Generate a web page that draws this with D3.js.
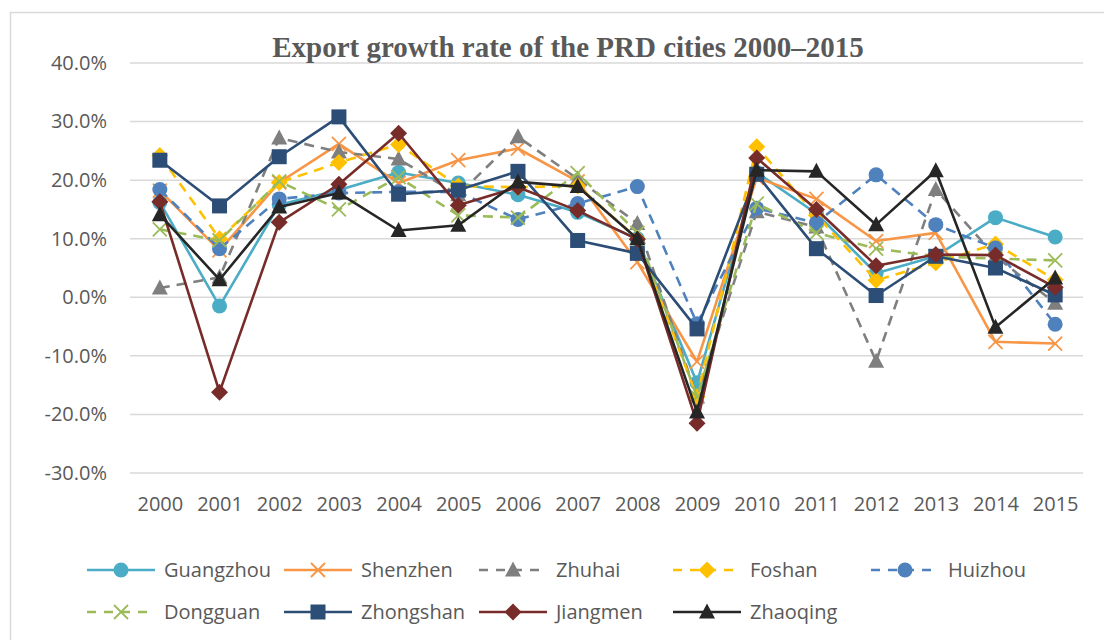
<!DOCTYPE html>
<html>
<head>
<meta charset="utf-8">
<script src="https://cdn.jsdelivr.net/npm/d3@7"></script>
<style>
  body { margin: 0; background: #fff; }
  svg { display: block; }
</style>
</head>
<body>
<script>
// data (percent)
var years = ["2000","2001","2002","2003","2004","2005","2006","2007","2008","2009","2010","2011","2012","2013","2014","2015"];
var yTicks = [-30, -20, -10, 0, 10, 20, 30, 40];

var guangzhou = [16.2, -1.5, 15.8, 18.3, 21.3, 19.5, 17.5, 14.5, 10.0, -14.6, 21.3, 14.3, 4.1, 7.0, 13.6, 10.3];
var shenzhen  = [18.2, 8.0, 19.6, 26.2, 19.5, 23.4, 25.4, 19.8, 6.0, -11.0, 20.4, 16.8, 9.6, 11.0, -7.6, -7.9];
var zhuhai    = [1.6, 3.4, 27.2, 24.8, 23.6, 17.5, 27.4, 20.2, 12.6, -17.0, 14.6, 12.0, -10.9, 18.4, 7.0, -1.0];
var foshan    = [24.2, 10.0, 19.6, 23.0, 26.1, 19.0, 18.8, 19.0, 10.0, -17.0, 25.7, 14.0, 2.9, 5.9, 9.1, 3.0];
var huizhou   = [18.4, 8.3, 16.8, 17.8, 18.0, 18.0, 13.3, 16.0, 18.9, -4.5, 15.2, 12.7, 20.9, 12.4, 8.4, -4.6];
var dongguan  = [11.6, 9.7, 19.8, 15.0, 20.5, 14.0, 13.6, 21.2, 11.0, -17.0, 16.0, 11.0, 8.3, 7.0, 6.6, 6.3];
var zhongshan = [23.4, 15.6, 24.0, 30.8, 17.6, 18.3, 21.5, 9.7, 7.5, -5.4, 21.0, 8.3, 0.3, 7.0, 5.0, 0.4];
var jiangmen  = [16.3, -16.2, 12.8, 19.3, 28.0, 15.7, 18.8, 14.8, 9.9, -21.5, 23.8, 15.0, 5.4, 7.3, 7.2, 1.7];
var zhaoqing  = [14.1, 3.0, 15.4, 17.8, 11.4, 12.3, 19.7, 18.9, 10.0, -19.6, 21.7, 21.5, 12.4, 21.6, -5.1, 3.3];

var seriesNames = ["Guangzhou","Shenzhen","Zhuhai","Foshan","Huizhou","Dongguan","Zhongshan","Jiangmen","Zhaoqing"];
var seriesValues = [guangzhou, shenzhen, zhuhai, foshan, huizhou, dongguan, zhongshan, jiangmen, zhaoqing];
var seriesColors = ["#4BACC6","#F79646","#7F7F7F","#FFC000","#4F81BD","#9BBB59","#2C4D75","#772C2A","#262626"];
var seriesMarkers = ["circle","cross","triangle","diamond","circle","cross","square","diamond","triangle"];
var seriesDashed = [false, false, true, true, true, true, false, false, false];

var width = 1104, height = 640;
var plot = { left: 130, right: 1085, top: 63, bottom: 473 };
var textColor = "#595959";
var gridColor = "#D9D9D9";
var fontFamily = "'Open Sans', 'Noto Sans', sans-serif";

var svg = d3.select("body").append("svg")
    .attr("width", width)
    .attr("height", height);

// chart frame
svg.append("rect")
    .attr("x", 10.5)
    .attr("y", 12.5)
    .attr("width", 1120)
    .attr("height", 660)
    .attr("fill", "#fff")
    .attr("stroke", gridColor)
    .attr("stroke-width", 1.5);

var x = d3.scalePoint()
    .domain(years)
    .range([plot.left, plot.right])
    .padding(0.5);

var y = d3.scaleLinear()
    .domain([-30, 40])
    .range([plot.bottom, plot.top]);

// grid lines
svg.append("g")
    .selectAll("line")
    .data(yTicks)
    .join("line")
    .attr("x1", plot.left)
    .attr("x2", plot.right - 2)
    .attr("y1", function(d) { return y(d); })
    .attr("y2", function(d) { return y(d); })
    .attr("stroke", gridColor)
    .attr("stroke-width", 1.5);

// y axis labels
var yAxis = d3.axisLeft(y)
    .tickValues(yTicks)
    .tickSize(0)
    .tickPadding(23)
    .tickFormat(function(d) { return d.toFixed(1) + "%"; });

var gy = svg.append("g")
    .attr("transform", "translate(" + plot.left + ",0)")
    .call(yAxis);
gy.select(".domain").remove();
gy.selectAll("text")
    .attr("fill", textColor)
    .style("font-family", fontFamily)
    .style("font-size", "20px");

// x axis labels
var xAxis = d3.axisBottom(x).tickSize(0).tickPadding(24);
var gx = svg.append("g")
    .attr("transform", "translate(0," + plot.bottom + ")")
    .call(xAxis);
gx.select(".domain").remove();
gx.selectAll("text")
    .attr("fill", textColor)
    .style("font-family", fontFamily)
    .style("font-size", "20px");

// title
svg.append("text")
    .attr("x", 568)
    .attr("y", 57)
    .attr("text-anchor", "middle")
    .attr("fill", textColor)
    .style("font-family", "'Liberation Serif', 'Times New Roman', serif")
    .style("font-weight", "bold")
    .style("font-size", "29px")
    .text("Export growth rate of the PRD cities 2000\u20132015");

function drawMarker(g, type, color) {
    if (type === "circle") {
        g.append("circle").attr("r", 7.5).attr("fill", color);
    } else if (type === "square") {
        g.append("rect").attr("x", -7.5).attr("y", -7.5).attr("width", 15).attr("height", 15).attr("fill", color);
    } else if (type === "triangle") {
        g.append("path").attr("d", "M0,-8.5L8,6.5L-8,6.5Z").attr("fill", color);
    } else if (type === "diamond") {
        g.append("path").attr("d", "M0,-8.5L8.5,0L0,8.5L-8.5,0Z").attr("fill", color);
    } else if (type === "cross") {
        g.append("path").attr("d", "M-7,-7L7,7M-7,7L7,-7")
            .attr("stroke", color).attr("stroke-width", 1.8).attr("fill", "none");
    }
}

var line = d3.line()
    .x(function(d, i) { return x(years[i]); })
    .y(function(d) { return y(d); });

seriesNames.forEach(function(name, s) {
    var g = svg.append("g").attr("class", "series");
    g.append("path")
        .attr("d", line(seriesValues[s]))
        .attr("fill", "none")
        .attr("stroke", seriesColors[s])
        .attr("stroke-width", 2.6)
        .attr("stroke-linejoin", "round")
        .attr("stroke-dasharray", seriesDashed[s] ? "10,7" : null);
    seriesValues[s].forEach(function(v, i) {
        var m = g.append("g").attr("transform", "translate(" + x(years[i]) + "," + y(v) + ")");
        drawMarker(m, seriesMarkers[s], seriesColors[s]);
    });
});

// legend
var legendCols = [87, 284, 479, 673, 871];
var legendRows = [570, 612];
seriesNames.forEach(function(name, s) {
    var col = s % 5, row = Math.floor(s / 5);
    var lg = svg.append("g")
        .attr("transform", "translate(" + legendCols[col] + "," + legendRows[row] + ")");
    lg.append("line")
        .attr("x1", 0).attr("x2", 68)
        .attr("y1", 0).attr("y2", 0)
        .attr("stroke", seriesColors[s])
        .attr("stroke-width", 2.6)
        .attr("stroke-dasharray", seriesDashed[s] ? "9,8" : null);
    var m = lg.append("g").attr("transform", "translate(34,0)");
    drawMarker(m, seriesMarkers[s], seriesColors[s]);
    lg.append("text")
        .attr("x", 77)
        .attr("y", 7)
        .attr("fill", textColor)
        .style("font-family", fontFamily)
        .style("font-size", "20px")
        .text(name);
});
</script>
</body>
</html>
